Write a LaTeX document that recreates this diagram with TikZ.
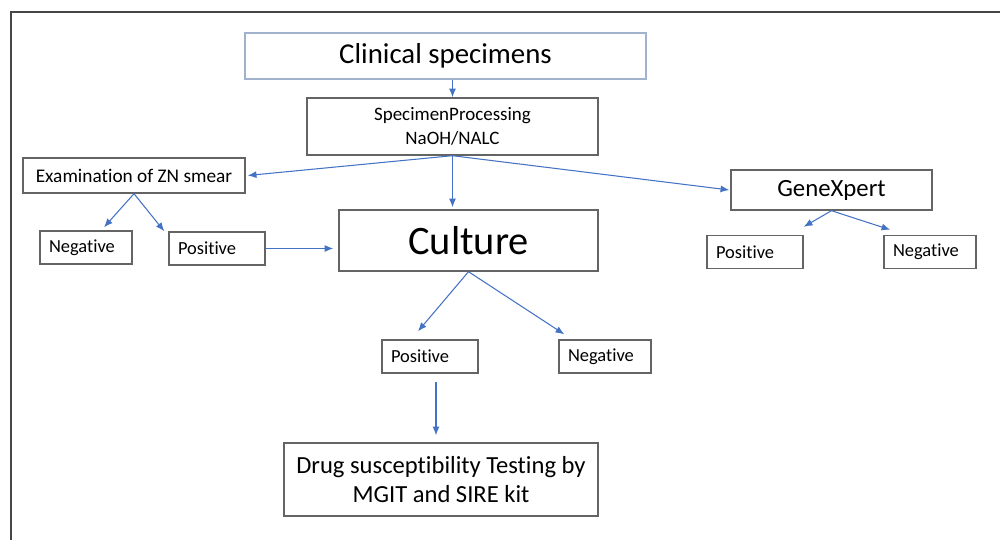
\documentclass[tikz,border=0pt]{standalone}
\usepackage{fontspec}
\setmainfont[Ligatures=NoCommon]{Carlito}
\usetikzlibrary{arrows.meta,calc}
\definecolor{arrowblue}{RGB}{68,114,196}
\definecolor{boxgray}{RGB}{100,100,100}
\definecolor{lightframe}{RGB}{160,178,204}
\tikzstyle{box}=[rectangle,draw=boxgray,line width=0.8pt,inner sep=0pt,align=center]
\tikzstyle{smallbox}=[box,font=\fontsize{10.5}{12}\selectfont,minimum height=0.66cm,inner xsep=0.18cm,align=left]
\tikzstyle{edge} = [draw,arrowblue,line width=0.6pt,-{Latex[length=5pt,width=4pt]}]

\begin{document}
\begin{tikzpicture}[x=0.02cm,y=-0.02cm]
    \useasboundingbox (0,0) rectangle (1000,540);
    \draw[boxgray!70!black,line width=1.1pt] (11,545) -- (11,12) -- (1005,12);

    \node[box,draw=lightframe,minimum width=8.02cm,minimum height=0.92cm,font=\fontsize{16.4}{19}\selectfont] (clin) at (445.5,56) {Clinical specimens};
    \node[box,minimum width=5.82cm,minimum height=1.14cm,font=\fontsize{10.8}{13.5}\selectfont] (proc) at (452.5,126.5) {SpecimenProcessing\\NaOH/NALC};
    \node[box,minimum width=4.44cm,minimum height=0.70cm,font=\fontsize{11}{13}\selectfont] (zn) at (134,175.5) {Examination of ZN smear};
    \node[box,minimum width=5.18cm,minimum height=1.22cm,font=\fontsize{23}{27}\selectfont] (cult) at (468.5,240.5) {Culture};
    \node[box,minimum width=4.02cm,minimum height=0.80cm,font=\fontsize{14.1}{17}\selectfont] (gx) at (831.5,190) {GeneXpert};
    \node[box,minimum width=6.28cm,minimum height=1.46cm,font=\fontsize{14}{17}\selectfont] (dst) at (441,479.5) {Drug susceptibility Testing by\\MGIT and SIRE kit};

    % result boxes
    \foreach \pos/ \name/ \txt/ \w in {{(86,247.5)/negL/Negative/1.48}, {(217,248.5)/posL/Positive/1.56}, {(755,252)/posR/Positive/1.56}, {(930,252)/negR/Negative/1.48}, {(430,356.5)/posC/Positive/1.56}, {(605,356.5)/negC/Negative/1.48}}
        \node[smallbox,text width=\w cm] (\name) at \pos {\txt};

    % connectors
    \path[edge] (clin.south -| proc.north) -- (proc.north);
    \path[edge] (proc.south) -- ($(zn.east)+(2,0)$);
    \path[edge] (proc.south) -- ($(proc.south |- cult.north)+(0,-2)$);
    \path[edge] (proc.south) -- ($(gx.west)+(-1,0)$);
    \path[edge] (zn.south) -- ($(negL.north)+(18,-3)$);
    \path[edge] (zn.south) -- ($(posL.north west)+(-4,0)$);
    \path[edge] (posL.east) -- ($(posL.east -| cult.west)+(-5,0)$);
    \path[edge] (cult.south) -- ($(posC.north)+(-12,-8)$);
    \path[edge] (cult.south) -- ($(negC.north west)+(6,-5)$);
    \path[edge] (gx.south) -- ($(posR.north east)+(0,-8)$);
    \path[edge] (gx.south) -- ($(negR.north west)+(7,-5)$);
    \path[edge] ($(posC.south)+(6,8)$) -- ($(dst.north)+(-5,-7)$);
\end{tikzpicture}
\end{document}
